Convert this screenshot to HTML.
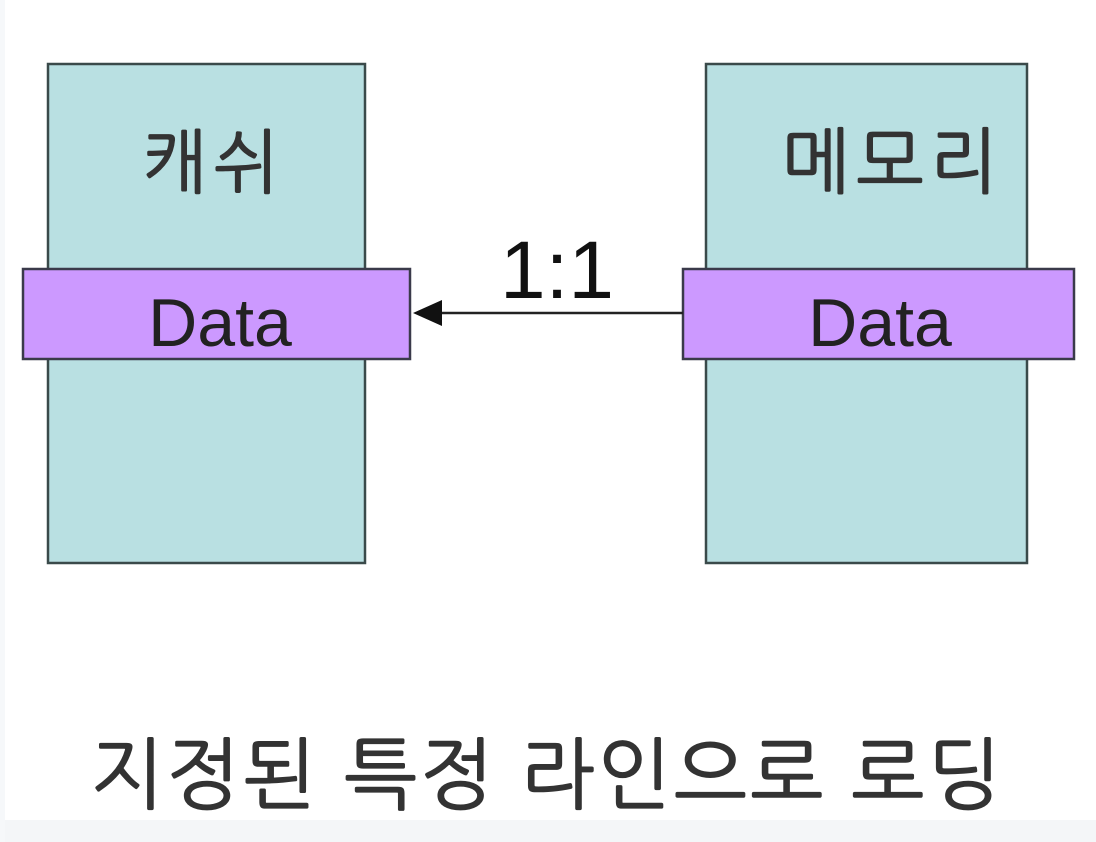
<!DOCTYPE html>
<html><head><meta charset="utf-8"><style>
html,body{margin:0;padding:0;}
body{width:1096px;height:842px;background:#fff;position:relative;overflow:hidden;font-family:"Liberation Sans","NanumGothic","Noto Sans CJK KR",sans-serif;}
</style></head><body>
<div style="position:absolute;left:0;top:820px;width:1096px;height:22px;background:#f4f6f8"></div>
<div style="position:absolute;left:0;top:0;width:5px;height:842px;background:#f6f8fa"></div>
<svg width="1096" height="842" style="position:absolute;left:0;top:0" font-family="Liberation Sans, NanumGothic, Noto Sans CJK KR, sans-serif">
<rect x="48" y="64" width="317" height="499" fill="#b9e0e2" stroke="#3a4a4a" stroke-width="2.5"/>
<rect x="706" y="64" width="321" height="499" fill="#b9e0e2" stroke="#3a4a4a" stroke-width="2.5"/>
<rect x="23" y="269" width="387" height="90" fill="#cc99ff" stroke="#3a3a4a" stroke-width="2.5"/>
<rect x="683" y="269" width="391" height="90" fill="#cc99ff" stroke="#3a3a4a" stroke-width="2.5"/>
<line x1="438" y1="313" x2="683" y2="313" stroke="#222" stroke-width="2.5"/>
<polygon points="413,313 442,300 442,326" fill="#111"/>
<text x="213" y="187" font-size="70" text-anchor="middle" fill="#333" stroke="#333" stroke-width="1.2" letter-spacing="6">캐쉬</text>
<text x="893" y="187" font-size="72" text-anchor="middle" fill="#333" stroke="#333" stroke-width="1.2" letter-spacing="6">메모리</text>
<text x="220" y="346" font-size="68" text-anchor="middle" fill="#222">Data</text>
<text x="880" y="346" font-size="68" text-anchor="middle" fill="#222">Data</text>
<text x="557" y="298" font-size="82" text-anchor="middle" fill="#111">1:1</text>
<text x="547" y="802" font-size="78" text-anchor="middle" fill="#333" stroke="#333" stroke-width="1.2" letter-spacing="3">지정된 특정 라인으로 로딩</text>
</svg>
</body></html>
